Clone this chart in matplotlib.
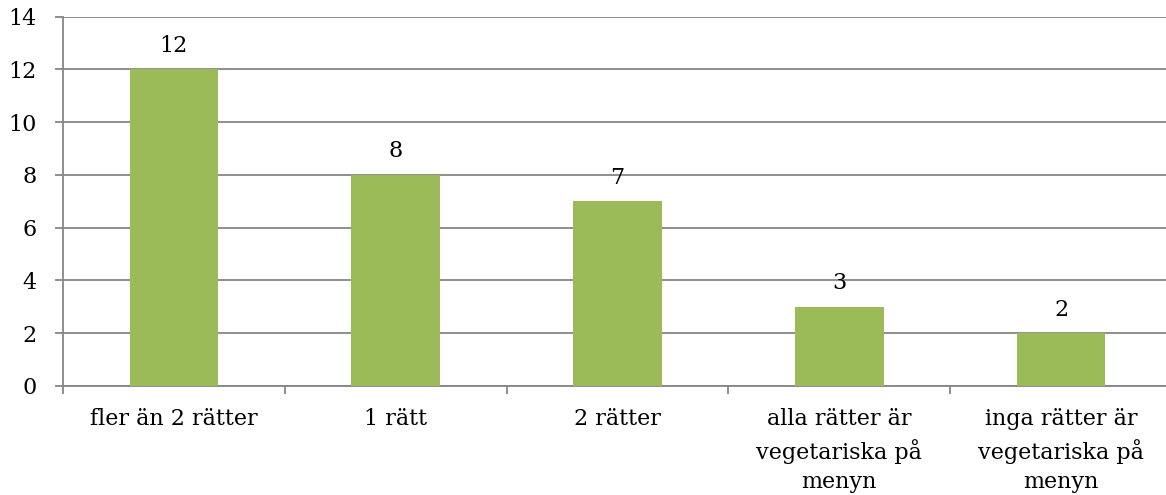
import matplotlib
matplotlib.use("Agg")
import matplotlib.pyplot as plt
import numpy as np

categories = ["fler än 2 rätter", "1 rätt", "2 rätter",
              "alla rätter är\nvegetariska på\nmenyn",
              "inga rätter är\nvegetariska på\nmenyn"]
values = [12, 8, 7, 3, 2]
yticks = [0, 2, 4, 6, 8, 10, 12, 14]

plt.rcParams['font.family'] = ['DejaVu Serif']
fs = 16

fig = plt.figure(figsize=(11.66, 4.95), dpi=100)
ax = fig.add_axes([63/1166, 1-386/495, 1109/1166, (386-16.7)/495])

x = np.arange(len(categories))
bars = ax.bar(x, values, width=0.4, color="#9BBB59", zorder=3)
ax.set_xlim(-0.5, len(categories)-0.5)
ax.set_ylim(0, 14)
ax.set_yticks(yticks)
ax.set_yticklabels([str(t) for t in yticks], fontsize=fs)
ax.yaxis.grid(True, color="#868686", linewidth=1.3, zorder=0)

for xi, v in zip(x, values):
    ax.annotate(str(v), (xi, v), xytext=(0, 17), textcoords="offset points",
                ha="center", va="center", fontsize=fs)

ax.set_xticks(x)
ax.set_xticklabels(categories, fontsize=fs, linespacing=1.42)
ax.tick_params(axis='x', length=0, pad=16)
ax.set_xticks(np.arange(-0.5, len(categories)+0.5, 1), minor=True)
ax.tick_params(axis='x', which='minor', length=6, width=1.3, color="#868686")
ax.tick_params(axis='y', length=6, width=1.3, color="#868686", pad=13)

for s in ["top", "right"]:
    ax.spines[s].set_visible(False)
for s in ["left", "bottom"]:
    ax.spines[s].set_color("#868686")
    ax.spines[s].set_linewidth(1.3)

fig.savefig("out.png", dpi=100)
